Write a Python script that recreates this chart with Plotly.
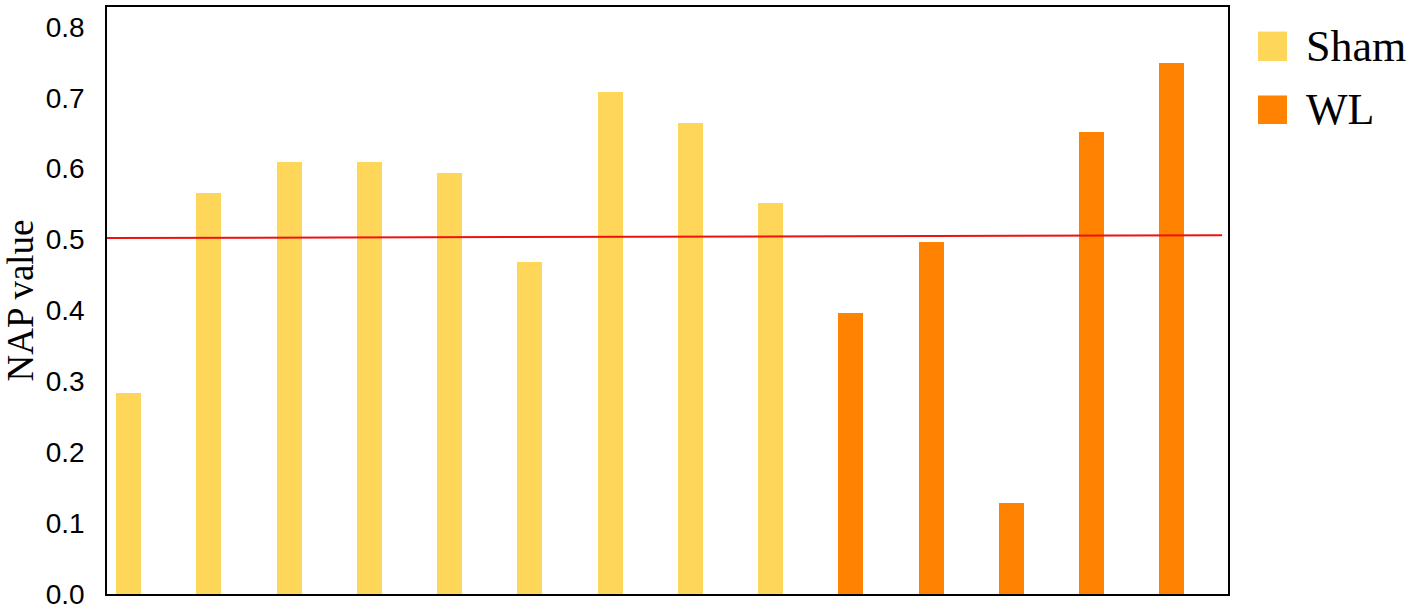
import plotly.graph_objects as go

# ---- data ----
sham_values = [0.284, 0.566, 0.609, 0.609, 0.594, 0.468, 0.708, 0.665, 0.551]
wl_values = [0.397, 0.496, 0.129, 0.651, 0.749]
threshold = [0.502, 0.506]          # red reference line (left end, right end)
series_names = ["Sham", "WL"]
y_ticks = [0.0, 0.1, 0.2, 0.3, 0.4, 0.5, 0.6, 0.7, 0.8]
y_ticklabels = ["0.0", "0.1", "0.2", "0.3", "0.4", "0.5", "0.6", "0.7", "0.8"]

SHAM_COLOR = "#FDD65A"
WL_COLOR = "#FF8300"

W, H = 1418, 615
ML, MR, MT, MB = 107, 190, 5, 13
PW, PH = W - ML - MR, H - MT - MB


def px_x(p):
    return (p - ML) / PW


def px_y(p):
    return (H - MB - p) / PH


sham_x = list(range(len(sham_values)))
wl_x = list(range(len(sham_values), len(sham_values) + len(wl_values)))

fig = go.Figure()
fig.add_trace(go.Bar(x=sham_x, y=sham_values, name=series_names[0],
                     marker=dict(color=SHAM_COLOR, line=dict(width=0)),
                     width=0.31, showlegend=False))
fig.add_trace(go.Bar(x=wl_x, y=wl_values, name=series_names[1],
                     marker=dict(color=WL_COLOR, line=dict(width=0)),
                     width=0.31, showlegend=False))

# red reference line
fig.add_shape(type="line", xref="paper", yref="y",
              x0=0, x1=px_x(1222), y0=threshold[0], y1=threshold[1],
              line=dict(color="#EE1111", width=2), layer="above")

# custom legend
legend_items = [(series_names[0], SHAM_COLOR, 30, 60), (series_names[1], WL_COLOR, 95, 124)]
for name, col, top, bot in legend_items:
    fig.add_shape(type="rect", xref="paper", yref="paper",
                  x0=px_x(1258), x1=px_x(1287), y0=px_y(bot), y1=px_y(top),
                  fillcolor=col, line=dict(width=0))
    fig.add_annotation(xref="paper", yref="paper", x=px_x(1304), y=px_y((top + bot) / 2),
                       text=name, showarrow=False, xanchor="left", yanchor="middle",
                       font=dict(family="Liberation Serif", size=44, color="black"))

fig.update_layout(
    width=W, height=H,
    margin=dict(l=ML, r=MR, t=MT, b=MB),
    plot_bgcolor="white", paper_bgcolor="white",
    bargap=0,
    showlegend=False,
)
fig.update_xaxes(range=[-0.27, 13.7], showticklabels=False, ticks="",
                 showgrid=False, zeroline=False,
                 showline=True, linecolor="black", linewidth=2, mirror=True)
fig.update_yaxes(range=[0, 0.828], tickvals=y_ticks, ticktext=y_ticklabels,
                 ticks="", ticklabelstandoff=15, ticklabeloverflow="allow",
                 tickfont=dict(family="Liberation Sans", size=28, color="black"),
                 showgrid=False, zeroline=False,
                 showline=True, linecolor="black", linewidth=1.5, mirror=True,
                 title=dict(text="NAP value", standoff=8,
                            font=dict(family="Liberation Serif", size=37, color="black")))

fig.write_html("out.html", config={"displayModeBar": False})

# remove the default page margin so the figure sits at the window origin
with open("out.html", "r", encoding="utf-8") as f:
    html = f.read()
html = html.replace("<head>", "<head><style>html,body{margin:0;padding:0;overflow:hidden;}</style>", 1)
with open("out.html", "w", encoding="utf-8") as f:
    f.write(html)
